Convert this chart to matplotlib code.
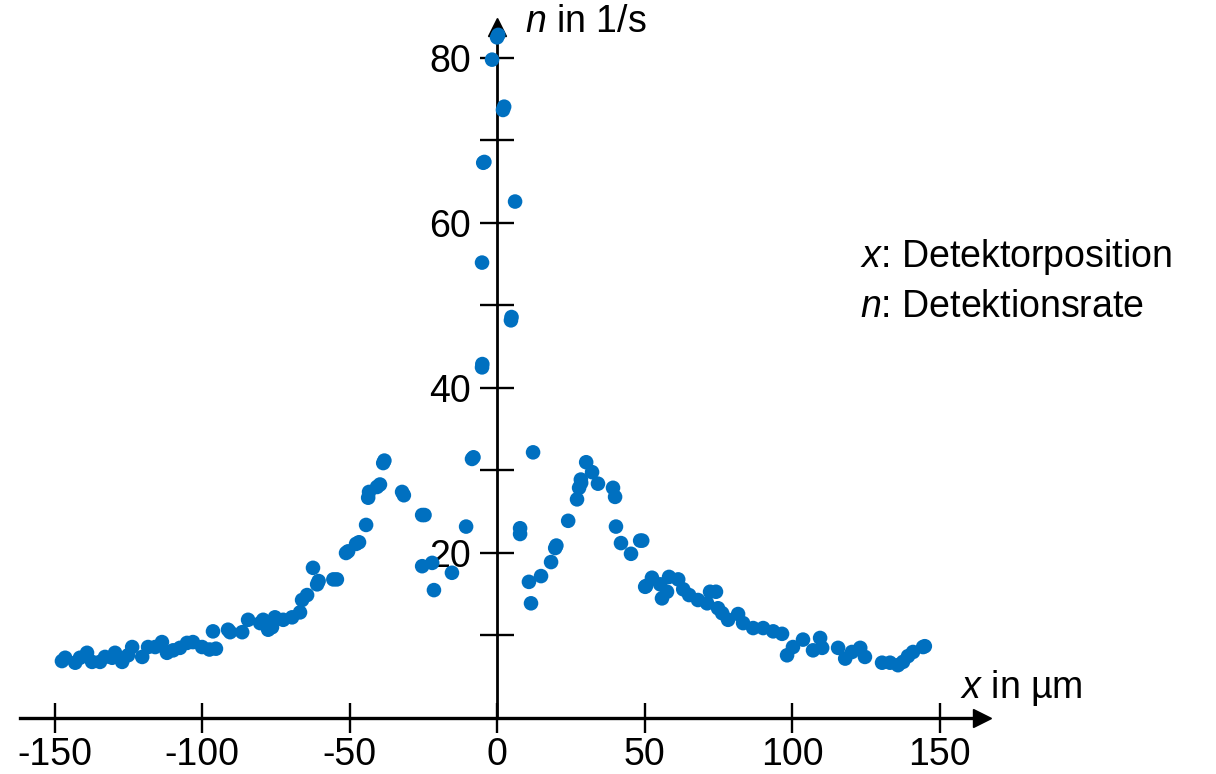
import matplotlib.pyplot as plt

plt.rcParams["font.family"] = ["Liberation Sans", "DejaVu Sans"]
plt.rcParams["mathtext.fontset"] = "custom"
plt.rcParams["mathtext.it"] = "Liberation Sans:italic"
plt.rcParams["mathtext.rm"] = "Liberation Sans"
plt.rcParams["axes.unicode_minus"] = False

# detector position x in um
x_pos = [
    -147.5, -146.4, -143.0, -141.4, -139.0, -137.3, -134.6, -132.9, -130.5, -129.5,
    -127.1, -125.1, -123.7, -120.3, -118.3, -115.9, -113.6, -111.9, -109.8, -107.5,
    -105.1, -103.1, -100.0, -97.5, -95.3, -96.3, -91.2, -90.5, -86.4, -84.4,
    -80.3, -79.3, -77.6, -76.3, -75.3, -72.5, -69.5, -66.8, -66.1, -64.4,
    -62.4, -61.0, -60.5, -55.5, -54.3, -51.2, -50.5, -47.8, -46.8, -44.4,
    -43.7, -43.4, -40.7, -39.7, -38.6, -38.2, -32.2, -31.6, -25.4, -24.6,
    -25.4, -22.0, -21.4, -15.3, -10.5, -8.5, -8.0, -5.1, -5.0, -5.1,
    -4.7, -4.3, -1.7, 0.0, 0.4, 2.0, 2.4, 4.7, 4.9, 6.1,
    7.8, 7.8, 10.8, 11.5, 12.2, 14.9, 18.3, 19.7, 20.1, 24.1,
    27.1, 27.8, 28.5, 28.4, 30.2, 32.2, 34.2, 39.3, 40.0, 40.3,
    42.0, 45.4, 48.5, 49.2, 50.2, 50.5, 52.5, 55.3, 55.9, 57.6,
    58.3, 61.4, 63.1, 65.1, 68.1, 71.2, 72.2, 74.2, 74.9, 76.3,
    78.3, 81.7, 83.4, 86.8, 90.2, 93.6, 96.6, 98.3, 100.3, 103.7,
    107.1, 109.5, 110.2, 115.6, 118.0, 120.3, 123.1, 124.7, 130.5, 133.2,
    135.9, 137.6, 139.3, 141.0, 144.4, 145.0,
]
# detection rate n in 1/s
rate = [
    6.9, 7.3, 6.7, 7.3, 7.9, 6.8, 6.8, 7.4, 7.3, 7.9,
    6.8, 7.6, 8.6, 7.4, 8.6, 8.6, 9.2, 7.9, 8.2, 8.5,
    9.1, 9.2, 8.6, 8.3, 8.4, 10.5, 10.7, 10.4, 10.4, 11.9,
    11.5, 11.9, 10.7, 11.0, 12.2, 11.9, 12.2, 12.8, 14.3, 14.9,
    18.2, 16.2, 16.6, 16.8, 16.8, 20.0, 20.2, 21.1, 21.3, 23.4,
    26.7, 27.4, 28.0, 28.3, 30.9, 31.2, 27.4, 27.0, 24.6, 24.6,
    18.4, 18.8, 15.5, 17.6, 23.2, 31.4, 31.6, 42.5, 42.9, 55.2,
    67.3, 67.4, 79.8, 82.5, 82.8, 73.7, 74.1, 48.2, 48.6, 62.6,
    23.0, 22.3, 16.5, 13.9, 32.2, 17.2, 18.9, 20.6, 20.9, 23.9,
    26.5, 27.9, 28.5, 28.9, 31.0, 29.8, 28.4, 27.9, 26.8, 23.2,
    21.2, 19.9, 21.5, 21.5, 15.9, 16.0, 17.0, 16.2, 14.5, 15.3,
    17.1, 16.8, 15.6, 14.9, 14.3, 13.9, 15.3, 15.3, 13.3, 12.7,
    11.9, 12.6, 11.5, 10.9, 10.9, 10.5, 10.2, 7.6, 8.6, 9.5,
    8.2, 9.7, 8.5, 8.5, 7.2, 8.0, 8.5, 7.4, 6.7, 6.7,
    6.4, 6.8, 7.5, 8.0, 8.6, 8.7,
]

x_ticks = [-150, -100, -50, 0, 50, 100, 150]
y_ticks = [10, 20, 30, 40, 50, 60, 70, 80]
y_tick_labels = ["", "20", "", "40", "", "60", "", "80"]

fig = plt.figure(figsize=(12.16, 7.74), dpi=100)
ax = fig.add_axes([0, 0, 1, 1])
ax.set_xlim(-168.5, 243.7)
ax.set_ylim(-6.79, 87.03)

ax.scatter(x_pos, rate, s=110, color="#0070C0", edgecolors="none", zorder=3)

# axes through the origin, with arrows
for side in ["top", "right"]:
    ax.spines[side].set_visible(False)
ax.spines["left"].set_position(("data", 0))
ax.spines["bottom"].set_position(("data", 0))
ax.spines["left"].set_bounds(0, 84)
ax.spines["bottom"].set_bounds(-161.7, 164)
ax.spines["left"].set_linewidth(2.0)
ax.spines["bottom"].set_linewidth(2.4)
ax.plot(164.5, 0, marker=">", color="black", markersize=13, clip_on=False)
ax.plot(0, 83.8, marker="^", color="black", markersize=13, clip_on=False)

ax.set_xticks(x_ticks, [str(v) for v in x_ticks])
ax.set_yticks(y_ticks, y_tick_labels)
ax.tick_params(axis="x", direction="inout", length=22, width=1.7, pad=3, labelsize=27)
ax.tick_params(axis="y", direction="inout", length=24, width=1.7, pad=7, labelsize=27)

ax.text(9.5, 84.4, "$n$ in 1/s", fontsize=27, ha="left", va="center")
ax.text(157, 3.6, "$x$ in µm", fontsize=27, ha="left", va="center")
ax.text(123, 55.9, "$x$: Detektorposition", fontsize=27, ha="left", va="center")
ax.text(123, 49.8, "$n$: Detektionsrate", fontsize=27, ha="left", va="center")

fig.savefig("out.png", dpi=100)
